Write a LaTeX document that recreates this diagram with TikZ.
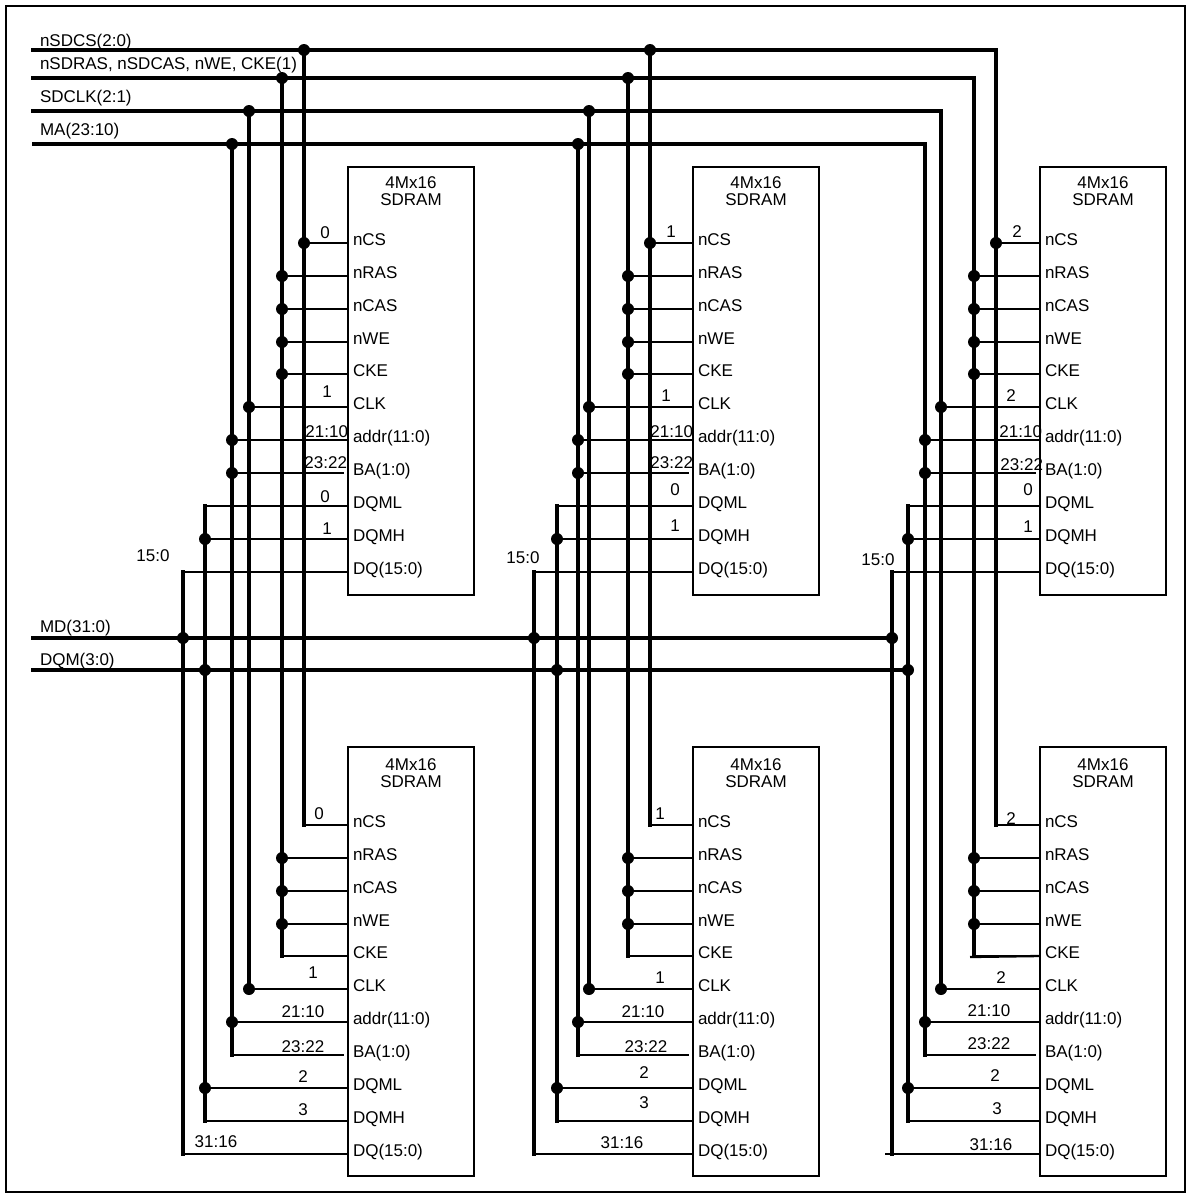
\documentclass[tikz,border=0pt]{standalone}
\usepackage{fontspec}
\setmainfont{Liberation Sans}
\begin{document}
\begin{tikzpicture}[x=1pt,y=-1pt,
  every node/.style={inner sep=0pt, outer sep=0pt},
  font=\fontsize{17}{20}\selectfont,
  bus/.style={line width=3.4pt, line cap=rect},
  stub/.style={line width=2.3pt},
  chip/.style={draw, line width=2.3pt, minimum width=126pt, minimum height=428pt},
  jdot/.style={circle, fill, minimum size=12pt},
  pinlbl/.style={anchor=base west},
  buslbl/.style={anchor=base west},
  numlbl/.style={anchor=center},
  numr/.style={anchor=east}]
\useasboundingbox (0,0) rectangle (1190,1197);
\draw[line width=2.3pt] (6,6) rectangle (1185,1192);

% bus inputs
\coordinate (CSin) at (33,50);
\coordinate (RASin) at (33,78);
\coordinate (CLKin) at (33,111);
\coordinate (MAin) at (34,144);
\coordinate (MDin) at (33,638);
\coordinate (DQMin) at (33,670);

\node[buslbl] (lcs) at (40,46) {nSDCS(2:0)};
\node[buslbl] (lras) at (40,69) {nSDRAS, nSDCAS, nWE, CKE(1)};
\node[buslbl] (lclk) at (40,102) {SDCLK(2:1)};
\node[buslbl] (lma) at (40,135) {MA(23:10)};
\node[buslbl] (lmd) at (40,632) {MD(31:0)};
\node[buslbl] (ldqm) at (40,665) {DQM(3:0)};

\foreach \c/\dq/\dqm/\ma/\clk/\ras/\cs/\bx in {0/183/205/232/249/282/304/348, 1/534/557/578/589/628/650/693, 2/892/908/925/941/974/996/1040}{
  \node[chip] (chip\c t) at (\bx+63,381) {};
  \node[chip, minimum height=429pt] (chip\c b) at (\bx+63,961.5) {};
  \node (tA\c) at (\bx+63,183) {4Mx16};
  \node (tB\c) at (\bx+63,200) {SDRAM};
  \node (bA\c) at (\bx+63,765) {4Mx16};
  \node (bB\c) at (\bx+63,782) {SDRAM};
  \foreach \p/\yy/\txt in {cs/243/nCS, ras/276/nRAS, cas/309/nCAS, we/342/nWE, cke/374/CKE, clk/407/CLK, addr/440/addr(11:0), ba/473/BA(1:0), dqml/506/DQML, dqmh/539/DQMH, dq/572/DQ(15:0)}{
    \coordinate (t\p\c) at (\bx,\yy);
    \coordinate (b\p\c) at (\bx,\yy+582);
    \node[pinlbl] (tl\p\c) at (\bx+5,\yy+2.5) {\txt};
    \node[pinlbl] (bl\p\c) at (\bx+5,\yy+584.5) {\txt};
  }
  \coordinate (Jcs\c) at (\cs,50);
  \coordinate (Jras\c) at (\ras,78);
  \coordinate (Jclk\c) at (\clk,111);
  \coordinate (Jma\c) at (\ma,144);
  \coordinate (Jmd\c) at (\dq,638);
  \coordinate (Jdqm\c) at (\dqm,670);
  % verticals
  \draw[bus] (Jcs\c) -- (Jcs\c |- bcs\c);
  \draw[bus] (Jras\c) -- (Jras\c |- bcke\c);
  \draw[bus] (Jclk\c) -- (Jclk\c |- bclk\c);
  \draw[bus] (Jma\c) -- (Jma\c |- bba\c);
  \draw[bus] (Jdqm\c |- tdqml\c) -- (Jdqm\c |- bdqmh\c);
  \draw[bus] (Jmd\c |- tdq\c) -- (Jmd\c |- bdq\c);
  % stubs
  \foreach \tb in {t,b}{
    \draw[stub] (Jcs\c |- \tb cs\c) -- (\tb cs\c);
    \draw[stub] (Jras\c |- \tb ras\c) -- (\tb ras\c);
    \draw[stub] (Jras\c |- \tb cas\c) -- (\tb cas\c);
    \draw[stub] (Jras\c |- \tb we\c) -- (\tb we\c);
    \draw[stub] (Jras\c |- \tb cke\c) -- (\tb cke\c);
    \draw[stub] (Jclk\c |- \tb clk\c) -- (\tb clk\c);
    \draw[stub] (Jma\c |- \tb addr\c) -- (\tb addr\c);
    \draw[stub] (Jma\c |- \tb ba\c) -- ([xshift=-4pt]\tb ba\c);
    \draw[stub] (Jdqm\c |- \tb dqml\c) -- (\tb dqml\c);
    \draw[stub] (Jdqm\c |- \tb dqmh\c) -- (\tb dqmh\c);
    \draw[stub] (Jmd\c |- \tb dq\c) -- (\tb dq\c);
  }
  % dots
  \ifnum\c<2
    \node[jdot] at (Jcs\c) {};
    \node[jdot] at (Jras\c) {};
    \node[jdot] at (Jclk\c) {};
    \node[jdot] at (Jma\c) {};
  \fi
  \node[jdot] at (Jmd\c) {};
  \node[jdot] at (Jdqm\c) {};
  \foreach \p/\v in {cs/Jcs, ras/Jras, cas/Jras, we/Jras, cke/Jras, clk/Jclk, addr/Jma, ba/Jma, dqmh/Jdqm}{
    \node[jdot] at (\v\c |- t\p\c) {};
  }
  \foreach \p/\v in {ras/Jras, cas/Jras, we/Jras, clk/Jclk, addr/Jma, dqml/Jdqm}{
    \node[jdot] at (\v\c |- b\p\c) {};
  }
}
\draw[stub] (885,1154) -- (bdq2);
\draw[stub] (970,957) -- (bcke2);

% horizontal buses
\draw[bus] (CSin) -- (Jcs2);
\draw[bus] (RASin) -- (Jras2);
\draw[bus] (CLKin) -- (Jclk2);
\draw[bus] (MAin) -- (Jma2);
\draw[bus] (MDin) -- (Jmd2);
\draw[bus] (DQMin) -- (Jdqm2);

% column 0 labels
\node[numlbl] (n0a) at (325,233) {0};
\node[numlbl] (n0b) at (327,392) {1};
\node[numr]   (n0c) at (348,432) {21:10};
\node[numr]   (n0d) at (347,463) {23:22};
\node[numlbl] (n0e) at (325,497) {0};
\node[numlbl] (n0f) at (327,529) {1};
\node[numlbl] (n0g) at (153,556) {15:0};
\node[numlbl] (n0h) at (319,814) {0};
\node[numlbl] (n0i) at (313,973) {1};
\node[numlbl] (n0j) at (303,1012) {21:10};
\node[numlbl] (n0k) at (303,1047) {23:22};
\node[numlbl] (n0l) at (303,1077) {2};
\node[numlbl] (n0m) at (303,1110) {3};
\node[numlbl] (n0n) at (216,1142) {31:16};
% column 1 labels
\node[numlbl] (n1a) at (671,232) {1};
\node[numlbl] (n1b) at (666,396) {1};
\node[numr]   (n1c) at (693,432) {21:10};
\node[numr]   (n1d) at (693,463) {23:22};
\node[numlbl] (n1e) at (675,490) {0};
\node[numlbl] (n1f) at (675,526) {1};
\node[numlbl] (n1g) at (523,558) {15:0};
\node[numlbl] (n1h) at (660,814) {1};
\node[numlbl] (n1i) at (660,978) {1};
\node[numlbl] (n1j) at (643,1012) {21:10};
\node[numlbl] (n1k) at (646,1047) {23:22};
\node[numlbl] (n1l) at (644,1073) {2};
\node[numlbl] (n1m) at (644,1103) {3};
\node[numlbl] (n1n) at (622,1143) {31:16};
% column 2 labels
\node[numlbl] (n2a) at (1017,232) {2};
\node[numlbl] (n2b) at (1011,396) {2};
\node[numr]   (n2c) at (1042,432) {21:10};
\node[numr]   (n2d) at (1043,465) {23:22};
\node[numlbl] (n2e) at (1028,490) {0};
\node[numlbl] (n2f) at (1028,527) {1};
\node[numlbl] (n2g) at (878,560) {15:0};
\node[numlbl] (n2h) at (1011,819) {2};
\node[numlbl] (n2i) at (1001,978) {2};
\node[numlbl] (n2j) at (989,1011) {21:10};
\node[numlbl] (n2k) at (989,1044) {23:22};
\node[numlbl] (n2l) at (995,1076) {2};
\node[numlbl] (n2m) at (997,1109) {3};
\node[numlbl] (n2n) at (991,1145) {31:16};
\end{tikzpicture}
\end{document}
